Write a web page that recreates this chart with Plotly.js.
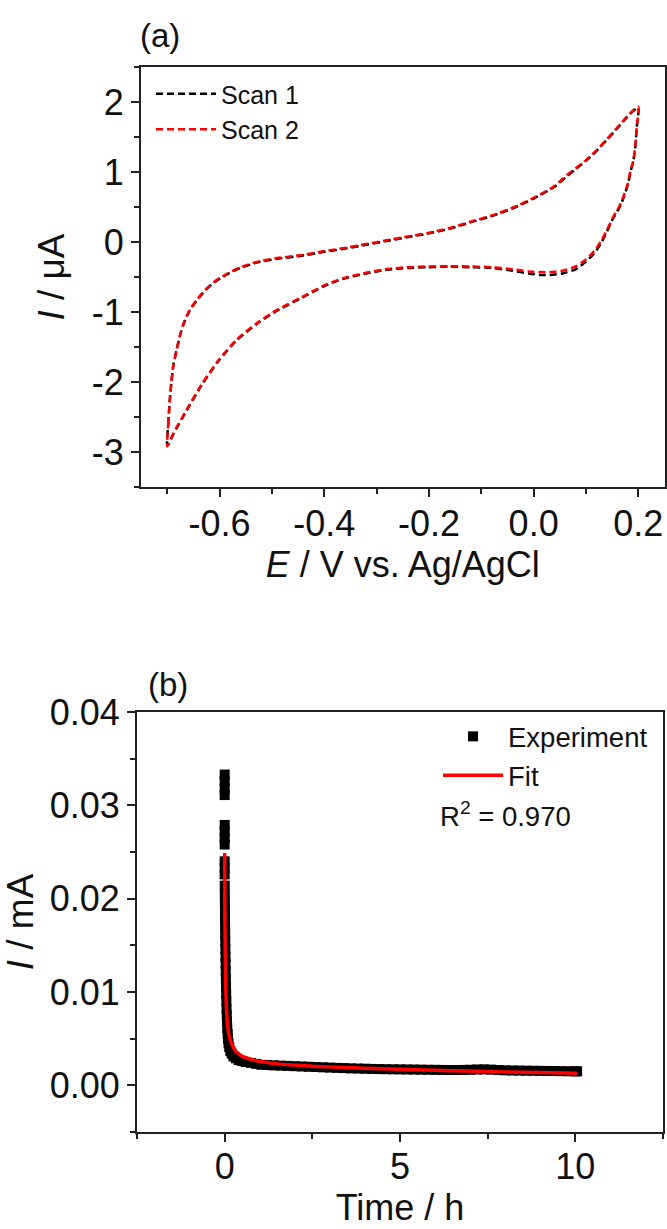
<!DOCTYPE html>
<html>
<head>
<meta charset="utf-8">
<script src="https://cdn.plot.ly/plotly-3.0.1.min.js"></script>
<style>html,body{margin:0;padding:0;background:#fff;}#chart{width:667px;height:1229px;}</style>
</head>
<body>
<div id="chart"></div>
<script>
// ---------- Panel (a): cyclic voltammograms ----------
// potential (V vs Ag/AgCl), forward sweep -0.7 -> 0.2 then reverse 0.2 -> -0.7
const cvE = [-0.700,-0.698,-0.695,-0.692,-0.688,-0.682,-0.675,-0.667,-0.657,-0.645,-0.633,-0.620,-0.605,-0.585,-0.560,-0.527,-0.490,-0.446,-0.400,-0.365,-0.320,-0.284,-0.240,-0.202,-0.160,-0.121,-0.080,-0.040,0.000,0.040,0.064,0.080,0.100,0.119,0.140,0.158,0.178,0.190,0.200,
             0.197,0.194,0.190,0.186,0.180,0.174,0.167,0.160,0.152,0.140,0.130,0.118,0.100,0.080,0.055,0.030,0.013,-0.010,-0.040,-0.080,-0.121,-0.160,-0.202,-0.240,-0.284,-0.320,-0.365,-0.400,-0.446,-0.490,-0.527,-0.568,-0.602,-0.633,-0.663,-0.688,-0.697,-0.700];
// current (µA), scan 1
const scan1I = [-2.90,-2.60,-2.26,-2.00,-1.75,-1.54,-1.32,-1.14,-0.98,-0.85,-0.74,-0.64,-0.55,-0.46,-0.37,-0.29,-0.24,-0.20,-0.14,-0.10,-0.04,0.01,0.07,0.12,0.19,0.28,0.37,0.48,0.62,0.79,0.94,1.04,1.16,1.29,1.46,1.61,1.78,1.87,1.92,
                1.64,1.34,1.14,1.03,0.82,0.68,0.54,0.44,0.34,0.15,0.00,-0.14,-0.28,-0.39,-0.45,-0.47,-0.47,-0.45,-0.41,-0.37,-0.36,-0.35,-0.36,-0.37,-0.40,-0.45,-0.53,-0.63,-0.81,-0.98,-1.16,-1.41,-1.70,-2.03,-2.41,-2.74,-2.88,-2.90];
// current (µA), scan 2
const scan2I = [-2.92,-2.61,-2.27,-2.01,-1.76,-1.55,-1.32,-1.13,-0.97,-0.84,-0.73,-0.63,-0.54,-0.45,-0.36,-0.28,-0.23,-0.19,-0.13,-0.09,-0.03,0.02,0.08,0.13,0.20,0.29,0.38,0.49,0.63,0.80,0.96,1.05,1.17,1.30,1.47,1.62,1.79,1.88,1.93,
                1.65,1.35,1.15,1.05,0.84,0.70,0.56,0.46,0.36,0.17,0.03,-0.11,-0.25,-0.35,-0.41,-0.43,-0.43,-0.42,-0.39,-0.36,-0.35,-0.345,-0.35,-0.36,-0.39,-0.44,-0.52,-0.62,-0.80,-0.97,-1.15,-1.40,-1.69,-2.02,-2.40,-2.73,-2.88,-2.92];
const cvTickVals = [-0.6,-0.4,-0.2,0.0,0.2];
const cvTickText = ['-0.6','-0.4','-0.2','0.0','0.2'];
const cvMinorVals = [-0.7,-0.5,-0.3,-0.1,0.1];
const cvYTickVals = [-3,-2,-1,0,1,2];
const cvYTickText = ['-3','-2','-1','0','1','2'];
const cvYMinorVals = [-3.5,-2.5,-1.5,-0.5,0.5,1.5,2.5];

// ---------- Panel (b): chronoamperometry ----------
// time (h) and current (mA) of the experiment
const expT = [0,0,0,0,0,0,0,0,0,0,0,
  0.002,0.004,0.006,0.008,0.010,0.012,0.014,0.017,0.020,0.023,0.026,0.030,0.034,0.038,0.043,0.048,0.054,0.060,0.067,0.075,0.085,0.095,0.11,0.13,0.16,0.20,0.25,0.32,0.40,0.50,0.60,0.75,0.90,1.05,1.20,1.40,1.60,1.80,
  2.0,2.2,2.4,2.6,2.8,3.0,3.2,3.4,3.6,3.8,4.0,4.2,4.4,4.6,4.8,5.0,5.2,5.4,5.6,5.8,6.0,6.2,6.4,6.6,6.8,7.0,7.2,7.4,7.6,7.8,8.0,8.2,8.4,8.6,8.8,9.0,9.2,9.4,9.6,9.8,10.0,10.05];
const expI = [0.0333,0.0326,0.0318,0.0311,0.0279,0.0272,0.0265,0.0258,0.0240,0.0233,0.0226,
  0.0214,0.0205,0.0196,0.0187,0.0178,0.0170,0.0162,0.0154,0.0146,0.0138,0.0130,0.0122,0.0114,0.0106,0.0098,0.0090,0.0082,0.0075,0.0068,0.0061,0.0055,0.0050,0.0045,0.0041,0.0037,0.0034,0.0031,0.0029,0.0027,0.0026,0.0025,0.0024,0.0023,0.0022,0.00218,0.00214,0.00211,0.00208,
  0.00205,0.00202,0.00199,0.00196,0.00193,0.00190,0.00187,0.00185,0.00182,0.00180,0.00178,0.00176,0.00174,0.00173,0.00172,0.00171,0.00170,0.00169,0.00168,0.00167,0.00166,0.00165,0.00164,0.00164,0.00165,0.00167,0.00170,0.00171,0.00168,0.00164,0.00161,0.00159,0.00158,0.00157,0.00156,0.00155,0.00154,0.00153,0.00152,0.00151,0.00150,0.00150];
// fitted curve
const fitT = [0.0,0.003,0.006,0.010,0.015,0.020,0.030,0.040,0.050,0.070,0.090,0.12,0.15,0.18,0.24,0.30,0.36,0.50,0.65,0.84,1.10,1.50,2.05,2.60,3.25,4.0,5.0,6.0,6.9,8.0,9.0,10.05];
const fitI = [0.0249,0.0215,0.0190,0.0165,0.0145,0.0130,0.0108,0.0093,0.0083,0.0070,0.0062,0.0055,0.0050,0.0046,0.0041,0.0037,0.0035,0.0031,0.0029,0.0027,0.0025,0.0023,0.00215,0.00203,0.00193,0.00183,0.00172,0.00161,0.00153,0.00144,0.00137,0.00130];
const caXTickVals = [0,5,10];
const caYTickVals = [0,0.01,0.02,0.03,0.04];

// ---------- layout helpers ----------
const W = 667, H = 1229;
const px = x => x / W;
const py = y => 1 - y / H;
const FONT = 'Liberation Sans, Arial, Helvetica, sans-serif';
const AX = '#222';

const baseAxis = {
  showline: true, linewidth: 2, linecolor: AX, mirror: true,
  ticks: 'outside', ticklen: 8, tickwidth: 2, tickcolor: AX,
  showgrid: false, zeroline: false,
  tickfont: {family: FONT, size: 36, color: '#111'},
  fixedrange: true
};
const minorBase = {ticks: 'outside', ticklen: 5, tickwidth: 2, tickcolor: AX, showgrid: false};

const traces = [
  {x: cvE, y: scan1I, xaxis: 'x', yaxis: 'y', type: 'scatter', mode: 'lines', name: 'Scan 1',
   line: {color: '#000000', width: 2.5, dash: '7px,4px', shape: 'spline', smoothing: 0.6}, legend: 'legend'},
  {x: cvE, y: scan2I, xaxis: 'x', yaxis: 'y', type: 'scatter', mode: 'lines', name: 'Scan 2',
   line: {color: '#ff0000', width: 2.5, dash: '7px,4px', shape: 'spline', smoothing: 0.6}, legend: 'legend'},
  {x: expT, y: expI, xaxis: 'x2', yaxis: 'y2', type: 'scatter', mode: 'markers', name: 'Experiment',
   marker: {symbol: 'square', size: 10, color: '#000000', line: {width: 0}}, legend: 'legend2'},
  {x: fitT, y: fitI, xaxis: 'x2', yaxis: 'y2', type: 'scatter', mode: 'lines', name: 'Fit',
   line: {color: '#ff0000', width: 3.5, shape: 'spline', smoothing: 0.5}, legend: 'legend2'}
];

const layout = {
  width: W, height: H,
  margin: {l: 0, r: 0, t: 0, b: 0},
  paper_bgcolor: '#ffffff', plot_bgcolor: '#ffffff',
  font: {family: FONT, color: '#111'},
  showlegend: true,
  xaxis: Object.assign({}, baseAxis, {
    domain: [px(141), px(664.5)], range: [-0.75, 0.25], anchor: 'y',
    tickmode: 'array', tickvals: cvTickVals, ticktext: cvTickText, ticklabelstandoff: -4,
    minor: Object.assign({}, minorBase, {tickmode: 'array', tickvals: cvMinorVals}),
    title: {text: '<i>E</i> / V vs. Ag/AgCl', font: {family: FONT, size: 36, color: '#111'}, standoff: 4}
  }),
  yaxis: Object.assign({}, baseAxis, {
    domain: [py(487), py(67)], range: [-3.5, 2.5], anchor: 'x',
    tickmode: 'array', tickvals: cvYTickVals, ticktext: cvYTickText,
    minor: Object.assign({}, minorBase, {tickmode: 'array', tickvals: cvYMinorVals}),
    title: {text: '<i>I</i> / μA', font: {family: FONT, size: 37, color: '#111'}, standoff: 16}
  }),
  xaxis2: Object.assign({}, baseAxis, {
    domain: [px(137), px(663)], range: [-2.5, 12.5], anchor: 'y2',
    tickmode: 'array', tickvals: caXTickVals, ticklabelstandoff: -6,
    minor: Object.assign({}, minorBase, {tickmode: 'linear', tick0: -2.5, dtick: 2.5}),
    title: {text: 'Time / h', font: {family: FONT, size: 36, color: '#111'}, standoff: 6}
  }),
  yaxis2: Object.assign({}, baseAxis, {
    domain: [py(1132), py(712)], range: [-0.005, 0.04], anchor: 'x2',
    tickmode: 'array', tickvals: caYTickVals, tickformat: '.2f',
    minor: Object.assign({}, minorBase, {tickmode: 'linear', tick0: -0.005, dtick: 0.005}),
    title: {text: '<i>I</i> / mA', font: {family: FONT, size: 37, color: '#111'}, standoff: 10}
  }),
  legend: {
    x: px(151), y: py(71), xanchor: 'left', yanchor: 'top',
    bgcolor: 'rgba(0,0,0,0)', borderwidth: 0,
    font: {family: FONT, size: 25, color: '#111'}, itemwidth: 60,
    tracegroupgap: 0
  },
  legend2: {
    x: px(438), y: py(712), xanchor: 'left', yanchor: 'top',
    bgcolor: 'rgba(0,0,0,0)', borderwidth: 0,
    font: {family: FONT, size: 27.5, color: '#111'}, itemwidth: 60,
    tracegroupgap: 0
  },
  annotations: [
    {text: '(a)', x: px(160), y: py(36), xref: 'paper', yref: 'paper', xanchor: 'center', yanchor: 'middle',
     showarrow: false, font: {family: FONT, size: 33, color: '#111'}},
    {text: '(b)', x: px(168), y: py(684), xref: 'paper', yref: 'paper', xanchor: 'center', yanchor: 'middle',
     showarrow: false, font: {family: FONT, size: 33, color: '#111'}},
    {text: 'R<sup>2</sup> = 0.970', x: px(438), y: py(814), xref: 'paper', yref: 'paper', xanchor: 'left', yanchor: 'middle',
     showarrow: false, font: {family: FONT, size: 27.5, color: '#111'}}
  ]
};

Plotly.newPlot('chart', traces, layout, {displayModeBar: false, staticPlot: true});
</script>
</body>
</html>
